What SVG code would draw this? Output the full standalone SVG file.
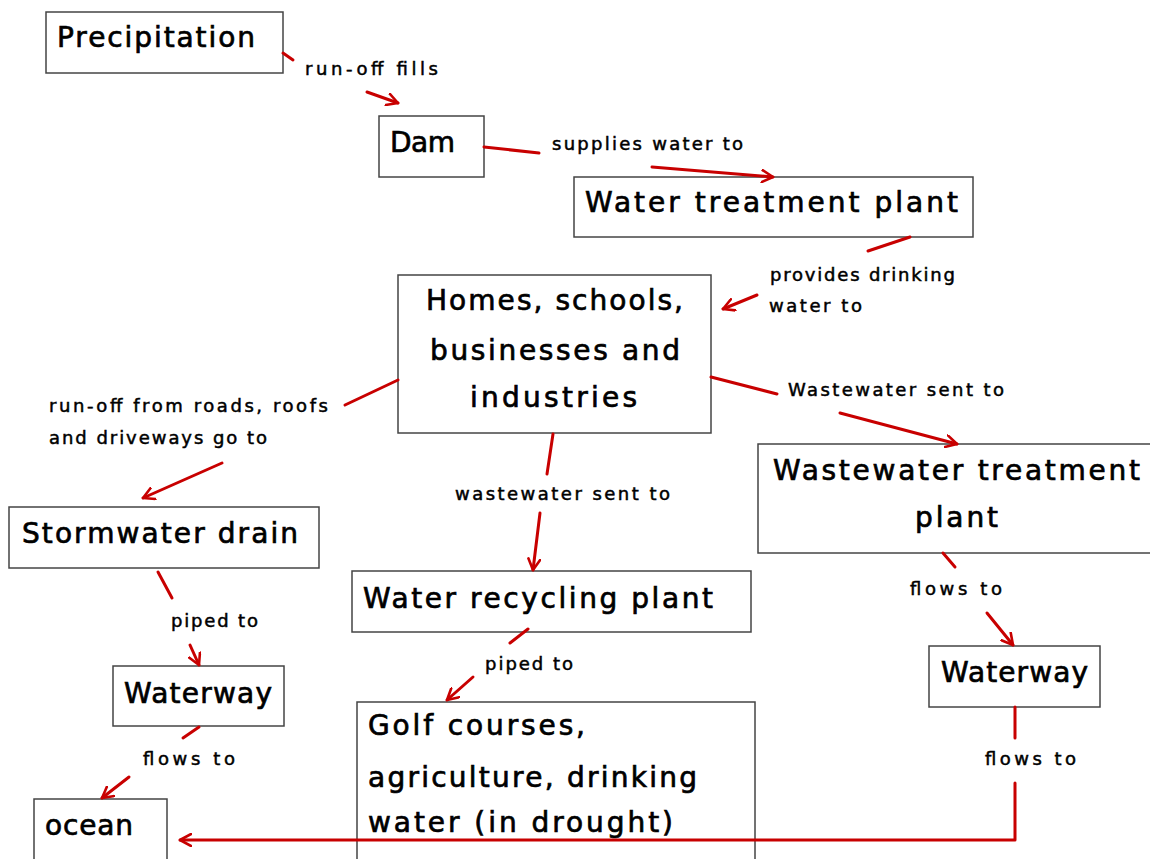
<svg xmlns="http://www.w3.org/2000/svg" width="1150" height="859" viewBox="0 0 1150 859">
<style>
.box{fill:#fff;stroke:#444;stroke-width:1.5}
.nt{font-family:"DejaVu Sans","Liberation Sans",sans-serif;font-size:28px;fill:#000;stroke:#000;stroke-width:0.7}
.lb{font-family:"DejaVu Sans","Liberation Sans",sans-serif;font-size:18px;fill:#000;stroke:#000;stroke-width:0.5}
.c{fill:none;stroke:#c80000;stroke-width:3;stroke-linecap:round;stroke-linejoin:round}
.a{marker-end:url(#ah)}
</style>
<defs>
<marker id="ah" viewBox="0 0 14 14" refX="12" refY="7" markerWidth="14" markerHeight="14" markerUnits="userSpaceOnUse" orient="auto">
<path d="M1,1 L12,7 L1,13" fill="none" stroke="#c80000" stroke-width="2.6" stroke-linecap="round" stroke-linejoin="round"/>
</marker>
</defs>
<rect width="1150" height="859" fill="#fff"/>
<g id="precipitation">
<rect class="box" x="46" y="12" width="237" height="61"/>
<text class="nt" x="57" y="47" textLength="198">Precipitation</text>
</g>
<g id="dam">
<rect class="box" x="379" y="116" width="105" height="61"/>
<text class="nt" x="390" y="152" textLength="65">Dam</text>
</g>
<g id="water-treatment-plant">
<rect class="box" x="574" y="177" width="399" height="60"/>
<text class="nt" x="585" y="212" textLength="373">Water treatment plant</text>
</g>
<g id="homes">
<rect class="box" x="398" y="275" width="313" height="158"/>
<text class="nt" x="426" y="310" textLength="257">Homes, schools,</text>
<text class="nt" x="430" y="360" textLength="250">businesses and</text>
<text class="nt" x="470" y="407" textLength="167">industries</text>
</g>
<g id="wastewater-treatment-plant">
<rect class="box" x="758" y="444" width="402" height="109"/>
<text class="nt" x="773" y="480" textLength="367">Wastewater treatment</text>
<text class="nt" x="915" y="527" textLength="83">plant</text>
</g>
<g id="stormwater-drain">
<rect class="box" x="9" y="507" width="310" height="61"/>
<text class="nt" x="22" y="543" textLength="276">Stormwater drain</text>
</g>
<g id="water-recycling-plant">
<rect class="box" x="352" y="571" width="399" height="61"/>
<text class="nt" x="363" y="608" textLength="350">Water recycling plant</text>
</g>
<g id="waterway-left">
<rect class="box" x="113" y="666" width="171" height="60"/>
<text class="nt" x="124" y="703" textLength="148">Waterway</text>
</g>
<g id="waterway-right">
<rect class="box" x="929" y="646" width="171" height="61"/>
<text class="nt" x="941" y="682" textLength="147">Waterway</text>
</g>
<g id="golf">
<rect class="box" x="357" y="702" width="398" height="170"/>
<text class="nt" x="368" y="735" textLength="217">Golf courses,</text>
<text class="nt" x="368" y="787" textLength="329">agriculture, drinking</text>
<text class="nt" x="368" y="832" textLength="305">water (in drought)</text>
</g>
<g id="ocean">
<rect class="box" x="34" y="799" width="133" height="72"/>
<text class="nt" x="45" y="835" textLength="88">ocean</text>
</g>
<g id="connectors">
<path class="c" d="M283,53 L293,60"/>
<path class="c a" d="M367,92 L398,103"/>
<path class="c" d="M484,147 L539,153"/>
<path class="c a" d="M652,167 L773,177"/>
<path class="c" d="M910,237 L868,251"/>
<path class="c a" d="M757,295 L723,309"/>
<path class="c" d="M398,380 L345,405"/>
<path class="c a" d="M222,463 L143,498"/>
<path class="c" d="M711,377 L777,394"/>
<path class="c a" d="M840,413 L957,444"/>
<path class="c" d="M553,434 L547,474"/>
<path class="c a" d="M540,513 L533,570"/>
<path class="c" d="M158,572 L172,598"/>
<path class="c a" d="M190,645 L199,665"/>
<path class="c" d="M528,629 L510,643"/>
<path class="c a" d="M473,677 L447,700"/>
<path class="c" d="M943,553 L955,567"/>
<path class="c a" d="M987,613 L1013,645"/>
<path class="c" d="M199,727 L183,738"/>
<path class="c a" d="M129,777 L102,798"/>
<path class="c" d="M1015,707 L1015,738"/>
<path class="c a" d="M1015,783 L1015,840 L180,840"/>
<text class="lb" x="305" y="75" textLength="133">run-off fills</text>
<text class="lb" x="552" y="150" textLength="191">supplies water to</text>
<text class="lb" x="770" y="281" textLength="185">provides drinking</text>
<text class="lb" x="769" y="312" textLength="93">water to</text>
<text class="lb" x="49" y="412" textLength="279">run-off from roads, roofs</text>
<text class="lb" x="49" y="444" textLength="218">and driveways go to</text>
<text class="lb" x="788" y="396" textLength="216">Wastewater sent to</text>
<text class="lb" x="455" y="500" textLength="215">wastewater sent to</text>
<text class="lb" x="171" y="627" textLength="87">piped to</text>
<text class="lb" x="485" y="670" textLength="88">piped to</text>
<text class="lb" x="910" y="595" textLength="92">flows to</text>
<text class="lb" x="143" y="765" textLength="92">flows to</text>
<text class="lb" x="985" y="765" textLength="91">flows to</text>
</g>
</svg>
